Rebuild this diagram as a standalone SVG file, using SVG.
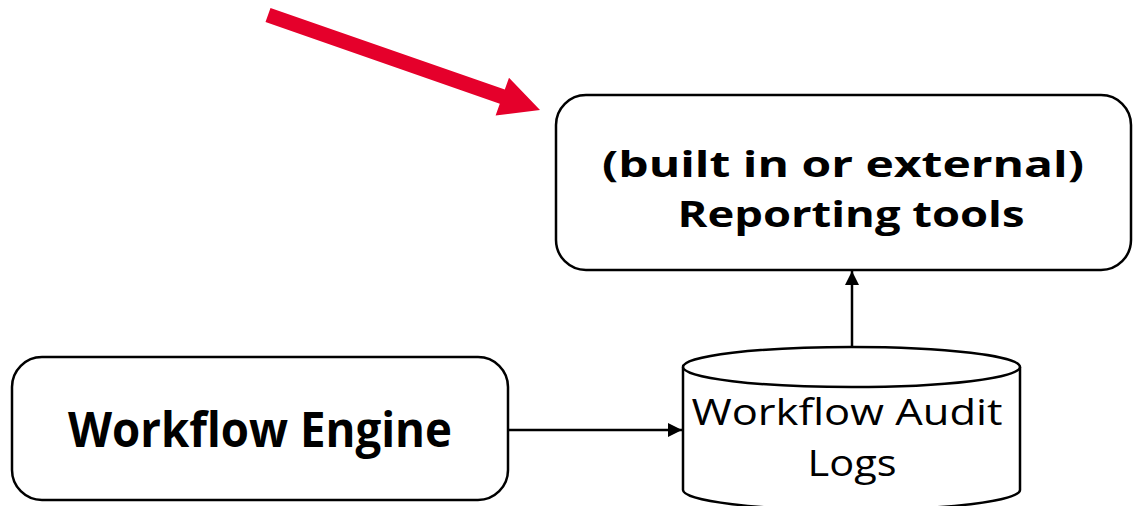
<svg xmlns="http://www.w3.org/2000/svg" width="1133" height="506" viewBox="0 0 1133 506">
  <defs>
    <marker id="headBig" viewBox="0 0 10 10" refX="10" refY="5" markerWidth="14" markerHeight="14" markerUnits="userSpaceOnUse" orient="auto">
      <path d="M0,0 L10,5 L0,10 z" fill="#000"/>
    </marker>
  </defs>
  <style>
    .box { fill: #fff; stroke: #000; stroke-width: 2.5; }
    .lbl { font-family: "Open Sans", "DejaVu Sans", sans-serif; fill: #000; text-anchor: middle; }
    .bold { font-weight: bold; }
    .edge { stroke: #000; stroke-width: 2.5; fill: none; }
  </style>
  <rect width="1133" height="506" fill="#fff"/>

  <!-- red pointer arrow -->
  <g id="pointer">
    <polygon points="270.5,7.9 504.8,89.6 509,77.8 540,110 495.6,115.6 499.8,103.8 265.5,22.1" fill="#e5002b"/>
  </g>

  <g id="reporting-tools">
    <rect class="box" x="556" y="95" width="575" height="175" rx="30" ry="30"/>
    <text class="lbl bold" x="843" y="177" font-size="36" textLength="482" lengthAdjust="spacingAndGlyphs">(built in or external)</text>
    <text class="lbl bold" x="851" y="227" font-size="36" textLength="347" lengthAdjust="spacingAndGlyphs">Reporting tools</text>
  </g>

  <g id="workflow-engine">
    <rect class="box" x="12" y="357" width="496" height="143" rx="30" ry="30"/>
    <text class="lbl bold" x="260" y="447" font-size="48" textLength="384" lengthAdjust="spacingAndGlyphs">Workflow Engine</text>
  </g>

  <g id="audit-logs">
    <path class="box" d="M683,367 L683,490 A168.5,20 0 0 0 1020,490 L1020,367"/>
    <ellipse class="box" cx="851.5" cy="367" rx="168.5" ry="20"/>
    <text class="lbl" x="847" y="425" font-size="36" textLength="311" lengthAdjust="spacingAndGlyphs">Workflow Audit</text>
    <text class="lbl" x="852" y="476" font-size="36" textLength="89" lengthAdjust="spacingAndGlyphs">Logs</text>
  </g>

  <g id="connectors">
    <line class="edge" x1="508" y1="430" x2="682" y2="430" marker-end="url(#headBig)"/>
    <line class="edge" x1="852" y1="347" x2="852" y2="271" marker-end="url(#headBig)"/>
  </g>
</svg>
